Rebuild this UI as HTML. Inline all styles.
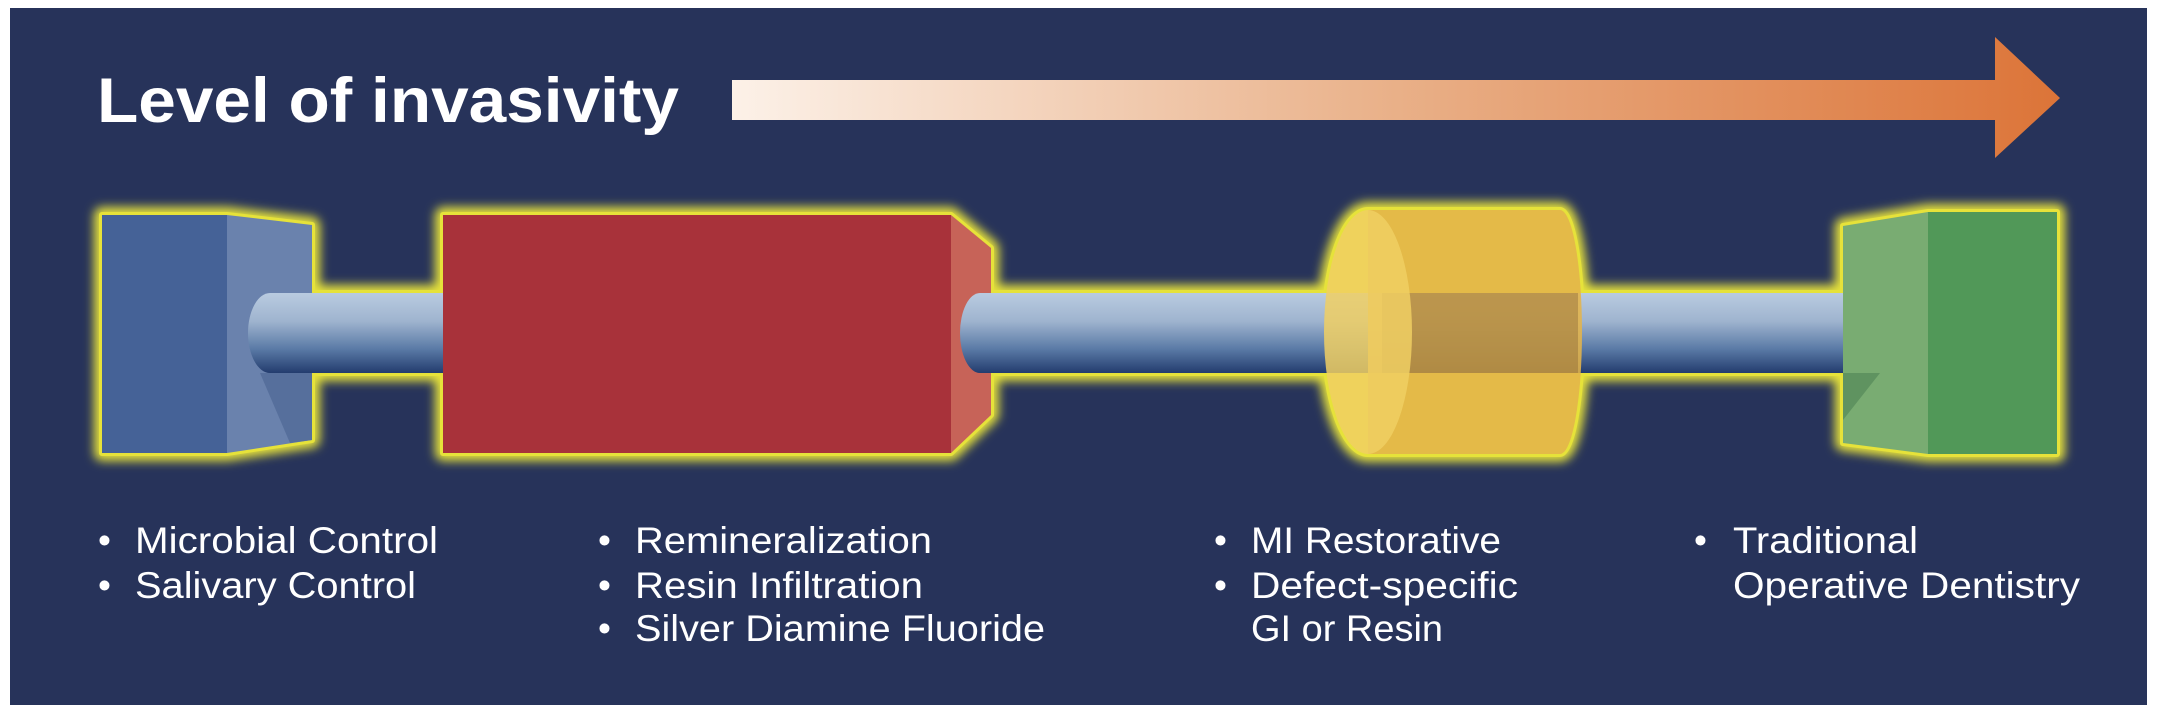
<!DOCTYPE html>
<html><head><meta charset="utf-8"><style>
html,body{margin:0;padding:0;background:#fff;}
svg{display:block;}
</style></head><body>
<svg width="2164" height="716" viewBox="0 0 2164 716" xmlns="http://www.w3.org/2000/svg">
<defs>
<linearGradient id="arr" x1="0" x2="1" y1="0" y2="0">
<stop offset="0" stop-color="#fcf1e8"/><stop offset="0.5" stop-color="#e9b088"/><stop offset="1" stop-color="#dc7438"/>
</linearGradient>
<linearGradient id="rod" x1="0" x2="0" y1="0" y2="1">
<stop offset="0" stop-color="#b9cbe0"/><stop offset="0.35" stop-color="#9fb4cf"/><stop offset="0.7" stop-color="#5a7aa6"/><stop offset="1" stop-color="#233c6e"/>
</linearGradient>
<filter id="blur" x="-10%" y="-20%" width="120%" height="140%"><feGaussianBlur stdDeviation="5"/></filter>
</defs>
<rect x="10" y="8" width="2137" height="697" fill="#27335a"/>
<text x="97" y="122" font-family="Liberation Sans, sans-serif" font-weight="bold" font-size="63" fill="#fff" textLength="582" lengthAdjust="spacingAndGlyphs">Level of invasivity</text>
<polygon points="732,80 1995,80 1995,37 2060,98 1995,158 1995,120 732,120" fill="url(#arr)"/>

<!-- glow -->
<g fill="#e6e23a" stroke="#e6e23a" stroke-linejoin="round">
<g filter="url(#blur)" stroke-width="16">
<polygon points="102,215 227,215 312,225 312,440 227,453 102,453"/>
<rect x="300" y="293" width="160" height="80"/>
<polygon points="443,215 951,215 991,248 991,415 951,453 443,453"/>
<rect x="980" y="293" width="360" height="80"/>
<path d="M1368,210 L1560,210 A22,122 0 0 1 1560,454 L1368,454 A44,122 0 0 1 1368,210 Z"/>
<rect x="1570" y="293" width="290" height="80"/>
<polygon points="1843,226 1928,212 2057,212 2057,454 1928,454 1843,443"/>
</g>
<g stroke-width="6">
<polygon points="102,215 227,215 312,225 312,440 227,453 102,453"/>
<rect x="300" y="293" width="160" height="80"/>
<polygon points="443,215 951,215 991,248 991,415 951,453 443,453"/>
<rect x="980" y="293" width="360" height="80"/>
<path d="M1368,210 L1560,210 A22,122 0 0 1 1560,454 L1368,454 A44,122 0 0 1 1368,210 Z"/>
<rect x="1570" y="293" width="290" height="80"/>
<polygon points="1843,226 1928,212 2057,212 2057,454 1928,454 1843,443"/>
</g>
</g>

<!-- blue block -->
<rect x="102" y="215" width="125" height="238" fill="#456297"/>
<polygon points="227,215 312,225 312,440 227,453" fill="#6a82ad"/>
<polygon points="260,373 312,373 312,440 290,443" fill="#566f9c"/>
<!-- left rod -->
<rect x="270" y="293" width="175" height="80" fill="url(#rod)"/>
<ellipse cx="270" cy="333" rx="22" ry="40" fill="url(#rod)"/>
<!-- red block -->
<rect x="443" y="215" width="508" height="238" fill="#a8323a"/>
<polygon points="951,215 991,248 991,415 951,453" fill="#c76358"/>
<!-- middle + right rod -->
<rect x="980" y="293" width="904" height="80" fill="url(#rod)"/>
<ellipse cx="980" cy="333" rx="20" ry="40" fill="url(#rod)"/>
<ellipse cx="1884" cy="333" rx="20" ry="40" fill="url(#rod)"/>
<!-- yellow cylinder -->
<path d="M1368,210 L1560,210 A22,122 0 0 1 1560,454 L1368,454 Z" fill="#e4b44a" opacity="0.88"/>
<rect x="1382" y="293" width="196" height="80" fill="#7a5a30" opacity="0.35"/>
<ellipse cx="1368" cy="332" rx="44" ry="122" fill="#f0cf63" opacity="0.85"/>
<!-- green block -->
<polygon points="1843,226 1928,212 1928,454 1843,443" fill="#79ac72"/>
<polygon points="1843,373 1880,373 1843,420" fill="#5f9360"/>
<rect x="1928" y="212" width="129" height="242" fill="#519858"/>

<g font-family="Liberation Sans, sans-serif" font-size="37" fill="#fff">
<text x="98" y="553">•</text><text x="135" y="553" textLength="303" lengthAdjust="spacingAndGlyphs">Microbial Control</text>
<text x="98" y="598">•</text><text x="135" y="598" textLength="281" lengthAdjust="spacingAndGlyphs">Salivary Control</text>
<text x="598" y="553">•</text><text x="635" y="553" textLength="297" lengthAdjust="spacingAndGlyphs">Remineralization</text>
<text x="598" y="598">•</text><text x="635" y="598" textLength="288" lengthAdjust="spacingAndGlyphs">Resin Infiltration</text>
<text x="598" y="641">•</text><text x="635" y="641" textLength="410" lengthAdjust="spacingAndGlyphs">Silver Diamine Fluoride</text>
<text x="1214" y="553">•</text><text x="1251" y="553" textLength="250" lengthAdjust="spacingAndGlyphs">MI Restorative</text>
<text x="1214" y="598">•</text><text x="1251" y="598" textLength="267" lengthAdjust="spacingAndGlyphs">Defect-specific</text>
<text x="1251" y="641" textLength="192" lengthAdjust="spacingAndGlyphs">GI or Resin</text>
<text x="1694" y="553">•</text><text x="1733" y="553" textLength="185" lengthAdjust="spacingAndGlyphs">Traditional</text>
<text x="1733" y="598" textLength="347" lengthAdjust="spacingAndGlyphs">Operative Dentistry</text>
</g>
</svg>
</body></html>
